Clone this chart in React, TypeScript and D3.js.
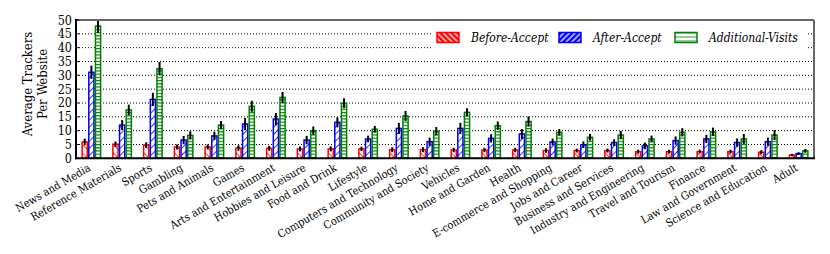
import React from 'react';
import * as d3 from 'd3';

const categories = [
  'News and Media', 'Reference Materials', 'Sports', 'Gambling', 'Pets and Animals', 'Games',
  'Arts and Entertainment', 'Hobbies and Leisure', 'Food and Drink', 'Lifestyle',
  'Computers and Technology', 'Community and Society', 'Vehicles', 'Home and Garden', 'Health',
  'E-commerce and Shopping', 'Jobs and Career', 'Business and Services', 'Industry and Engineering',
  'Travel and Tourism', 'Finance', 'Law and Government', 'Science and Education', 'Adult',
];

const seriesNames = ['Before-Accept', 'After-Accept', 'Additional-Visits'];

const beforeAccept = [5.9, 5.1, 4.8, 4.1, 4.1, 3.7, 3.6, 3.4, 3.4, 3.4, 3.1, 3.1, 3.0, 3.0, 3.0, 2.8, 2.8, 2.8, 2.4, 2.4, 2.4, 2.4, 2.2, 1.2];
const afterAccept = [31.1, 12.0, 21.3, 6.6, 8.1, 12.4, 14.2, 6.6, 13.0, 7.0, 10.8, 6.0, 10.8, 7.2, 8.8, 5.9, 4.9, 5.7, 4.5, 6.4, 7.0, 5.7, 6.0, 1.7];
const additionalVisits = [47.8, 17.5, 32.4, 8.3, 12.0, 18.8, 22.0, 10.0, 19.9, 10.5, 15.3, 9.8, 16.6, 11.8, 13.3, 9.4, 7.6, 8.4, 7.0, 9.4, 9.6, 7.0, 8.4, 2.7];

const beforeErr = [1.2, 1.0, 1.0, 0.9, 0.9, 1.0, 0.9, 0.9, 0.9, 0.8, 0.9, 0.9, 0.8, 0.8, 0.8, 0.8, 0.7, 0.7, 0.7, 0.7, 0.7, 0.7, 0.7, 0.4];
const afterErr = [2.4, 1.8, 2.4, 1.5, 1.5, 2.2, 2.2, 1.5, 1.8, 1.2, 2.0, 1.5, 2.0, 1.5, 1.8, 1.2, 1.2, 1.2, 1.2, 1.5, 1.5, 1.5, 1.5, 0.5];
const additionalErr = [2.4, 1.9, 2.4, 1.5, 1.5, 2.0, 2.0, 1.5, 1.8, 1.2, 1.8, 1.5, 1.5, 1.5, 1.8, 1.2, 1.2, 1.5, 1.2, 1.5, 1.5, 1.8, 1.8, 0.7];

const yTicks = [0, 5, 10, 15, 20, 25, 30, 35, 40, 45, 50];

const values = [beforeAccept, afterAccept, additionalVisits];
const errors = [beforeErr, afterErr, additionalErr];
const colors = ['#ff0000', '#0000ff', '#008000'];
const fills = ['url(#hatchRed)', 'url(#hatchBlue)', 'url(#hatchGreen)'];
const legendFills = ['url(#legRed)', 'url(#legBlue)', 'url(#legGreen)'];

const serif = "'DejaVu Serif Condensed', 'DejaVu Serif', serif";

export default function App() {
  const width = 830;
  const height = 254;
  const left = 76, right = 814, top = 20, bottom = 158.3;

  const x0 = d3.scaleBand<string>().domain(categories).range([left, right]).paddingInner(0.35).paddingOuter(0.175);
  const x1 = d3.scaleBand<string>().domain(seriesNames).range([0, x0.bandwidth()]);
  const y = d3.scaleLinear().domain([0, 50]).range([bottom, top]);

  const legendX = [437, 559, 675];

  return (
    <svg width={width} height={height} style={{ position: 'absolute', left: 0, top: 0 }}>
      <defs>
        <pattern id="hatchRed" width="6" height="6" patternUnits="userSpaceOnUse" patternTransform="rotate(-45)">
          <line x1="0" y1="0" x2="0" y2="6" stroke="#ff0000" strokeWidth="1.6" />
        </pattern>
        <pattern id="hatchBlue" width="5" height="5" patternUnits="userSpaceOnUse" patternTransform="rotate(45)">
          <line x1="0" y1="0" x2="0" y2="5" stroke="#0000ff" strokeWidth="1.6" />
        </pattern>
        <pattern id="hatchGreen" width="6" height="3.2" patternUnits="userSpaceOnUse">
          <line x1="0" y1="0.5" x2="6" y2="0.5" stroke="#008000" strokeWidth="1.3" />
        </pattern>
        <pattern id="legRed" width="4" height="4" patternUnits="userSpaceOnUse" patternTransform="rotate(-45)">
          <rect width="4" height="4" fill="#ff0000" />
          <line x1="2" y1="0" x2="2" y2="4" stroke="#fff" strokeWidth="1.3" />
        </pattern>
        <pattern id="legBlue" width="4" height="4" patternUnits="userSpaceOnUse" patternTransform="rotate(45)">
          <rect width="4" height="4" fill="#0000ff" />
          <line x1="2" y1="0" x2="2" y2="4" stroke="#fff" strokeWidth="1.3" />
        </pattern>
        <pattern id="legGreen" width="24" height="4" patternUnits="userSpaceOnUse" y="0.5">
          <line x1="0" y1="0" x2="24" y2="0" stroke="#008000" strokeWidth="1.6" />
        </pattern>
      </defs>

      {/* grid */}
      {yTicks.filter(t => t > 0 && t < 50).map(t => (
        <line key={'g' + t} x1={left} x2={right} y1={y(t)} y2={y(t)}
          stroke="#000" strokeWidth={1} strokeDasharray="1,2" />
      ))}

      {/* legend box */}
      <rect x={432} y={22} width={376} height={30} fill="#fff" />
      {seriesNames.map((s, i) => (
        <g key={'l' + s}>
          <rect x={legendX[i]} y={32.5} width={22} height={10} fill={legendFills[i]}
            stroke={colors[i]} strokeWidth={1.5} />
          <text x={legendX[i] + 34} y={42} fontFamily={serif} fontStyle="italic" fontSize={12} fill="#000">{s}</text>
        </g>
      ))}

      {/* bars */}
      {categories.map((c, ci) => (
        <g key={c} transform={`translate(${x0(c)},0)`}>
          {seriesNames.map((s, si) => {
            const v = values[si][ci];
            const e = errors[si][ci];
            const bx = x1(s)!;
            const bw = x1.bandwidth();
            return (
              <g key={s}>
                <rect x={bx + 0.75} y={y(v)} width={bw - 1.5} height={y(0) - y(v)} fill="#fff" />
                <rect x={bx + 0.75} y={y(v)} width={bw - 1.5} height={y(0) - y(v)}
                  fill={fills[si]} stroke={colors[si]} strokeWidth={1.5} />
                <line x1={bx + bw / 2} x2={bx + bw / 2} y1={y(Math.max(0, v - e))} y2={y(v + e)}
                  stroke="#000" strokeWidth={2} />
              </g>
            );
          })}
        </g>
      ))}

      {/* frame */}
      <line x1={left} x2={right} y1={top} y2={top} stroke="#666" strokeWidth={2} />
      <line x1={right} x2={right} y1={top} y2={bottom} stroke="#666" strokeWidth={2} />
      <line x1={left} x2={left} y1={top - 1} y2={bottom + 1} stroke="#000" strokeWidth={2} />
      <line x1={left - 1} x2={right + 1} y1={bottom} y2={bottom} stroke="#000" strokeWidth={2} />

      {/* y ticks */}
      {yTicks.map(t => (
        <g key={'t' + t}>
          <line x1={left} x2={left + 3} y1={y(t)} y2={y(t)} stroke="#000" strokeWidth={1} />
          <text x={72} y={y(t)} dy="0.36em" textAnchor="end" fontFamily={serif} fontSize={12.5}>{t}</text>
        </g>
      ))}

      {/* y label */}
      <g transform="translate(32,84) rotate(-90)">
        <text x={0} y={0} textAnchor="middle" fontFamily={serif} fontSize={13}>Average Trackers</text>
        <text x={0} y={15} textAnchor="middle" fontFamily={serif} fontSize={13}>Per Website</text>
      </g>

      {/* x labels */}
      {categories.map(c => (
        <text key={'x' + c} transform={`translate(${x0(c)! + x0.bandwidth() / 2},170) rotate(-30)`}
          textAnchor="end" fontFamily={serif} fontSize={11}>{c}</text>
      ))}
    </svg>
  );
}
